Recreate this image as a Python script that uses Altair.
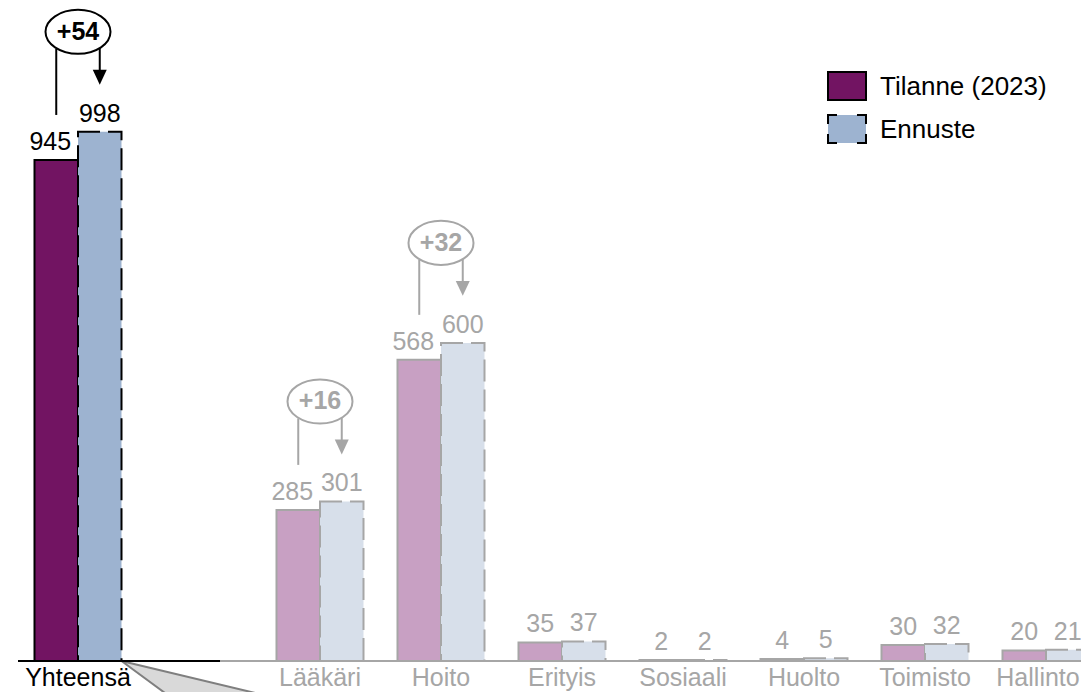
import altair as alt
import pandas as pd

# ---- data ----
categories = ["Yhteensä", "Lääkäri", "Hoito", "Erityis", "Sosiaali", "Huolto", "Toimisto", "Hallinto"]
current = [945, 285, 568, 35, 2, 4, 30, 20]          # Tilanne (2023)
forecast = [998, 301, 600, 37, 2, 5, 32, 21]         # Ennuste
series = ["Tilanne (2023)", "Ennuste"]
highlighted = ["Yhteensä"]
annot_categories = ["Yhteensä", "Lääkäri", "Hoito"]
annot_labels = ["+54", "+16", "+32"]
x_slots = ["Yhteensä", " ", "Lääkäri", "Hoito", "Erityis", "Sosiaali", "Huolto", "Toimisto", "Hallinto"]

# ---- tables ----
rows = []
for c, a, b in zip(categories, current, forecast):
    hl = "on" if c in highlighted else "off"
    rows.append({"category": c, "series": series[0], "value": a, "hl": hl})
    rows.append({"category": c, "series": series[1], "value": b, "hl": hl})
long_df = pd.DataFrame(rows)

cat_df = pd.DataFrame({"category": categories,
                       "hl": ["on" if c in highlighted else "off" for c in categories]})

ann_rows = []
for c, lab in zip(annot_categories, annot_labels):
    i = categories.index(c)
    ann_rows.append({"category": c, "cur": current[i], "fc": forecast[i], "label": lab,
                     "hl": "on" if c in highlighted else "off"})
ann_df = pd.DataFrame(ann_rows)

leg_df = pd.DataFrame({"series": series})

FONT = "Liberation Sans"
PURPLE = "#721462"
BLUE = "#9db3d0"
PURPLE_F = "#c8a0c3"
BLUE_F = "#d7dfea"
GRAY = "#a6a6a6"
DASH = [22, 8]
LEG_DASH = [9, 20, 18, 10, 18, 20, 18, 10, 9]
BW = 43.5          # bar width (px)
HALF = BW / 2      # offset of each bar centre from category centre

xscale = alt.Scale(domain=x_slots, range=[9.5, 1098.5], paddingInner=0, paddingOuter=0)
yscale = alt.Scale(domain=[-58.47, 1231.6], nice=False, zero=False)

X = alt.X("category:N", scale=xscale, axis=None)
YZERO = alt.Y("zero:Q", scale=yscale, axis=None)

is_on = "datum.hl == 'on'"
is_cur = f"datum.series == '{series[0]}'"
is_last = f"datum.category == '{categories[-1]}'"
col = alt.condition(is_on, alt.value("black"), alt.value(GRAY))

k = 0.677
c = 0.5523
ELLIPSE_PATH = (f"M 1 0 C 1 {c*k:.4f} {c:.4f} {k} 0 {k} "
                f"C {-c:.4f} {k} -1 {c*k:.4f} -1 0 "
                f"C -1 {-c*k:.4f} {-c:.4f} {-k} 0 {-k} "
                f"C {c:.4f} {-k} 1 {-c*k:.4f} 1 0 Z")
TRI_PATH = "M -1 -1.07 L 1 -1.07 L 0 1.07 Z"
CALLOUT_PATH = "M 0 0 L 0.815 0.6 L 2.508 0.6 Z"

# callout wedge below the total bar
callout = alt.Chart(cat_df).transform_filter(is_on).transform_calculate(zero="0").mark_point(
    shape=CALLOUT_PATH, size=40000, filled=True, fill="#d9d9d9", stroke="#7f7f7f",
    strokeWidth=2, opacity=1, xOffset=BW
).encode(x=X, y=YZERO)


def bar_layer(s, off, on_fill, off_fill, dash):
    return alt.Chart(long_df).transform_filter(f"datum.series == '{s}'").mark_bar(
        strokeWidth=2, width=BW, xOffset=off, strokeDash=dash
    ).encode(
        x=X, y=alt.Y("value:Q", scale=yscale, axis=None), y2=alt.datum(0),
        fill=alt.condition(is_on, alt.value(on_fill), alt.value(off_fill)),
        stroke=col,
    )


bars_cur = bar_layer(series[0], -HALF, PURPLE, PURPLE_F, [1, 0])
bars_fc = bar_layer(series[1], HALF, BLUE, BLUE_F, DASH)

base_black = alt.Chart(cat_df).transform_filter(is_on).transform_calculate(zero="0").mark_rule(
    color="black", strokeWidth=2).encode(x=alt.value(10), x2=alt.value(212), y=YZERO)
base_gray = alt.Chart(cat_df).transform_filter(is_on).transform_calculate(zero="0").mark_rule(
    color=GRAY, strokeWidth=2).encode(x=alt.value(212), x2=alt.value(1073), y=YZERO)


def value_labels(flt, off):
    return alt.Chart(long_df).transform_filter(flt).mark_text(
        font=FONT, fontSize=25, baseline="alphabetic", align="center", yOffset=-10, xOffset=off
    ).encode(x=X, y=alt.Y("value:Q", scale=yscale, axis=None), text="value:Q", color=col)


val_cur_big = value_labels(f"{is_cur} && datum.value >= 100", -HALF - 6)
val_cur_small = value_labels(f"{is_cur} && datum.value < 100", -HALF)
val_fc = value_labels(f"!({is_cur})", HALF)


def category_labels(flt, dx):
    return alt.Chart(cat_df).transform_filter(flt).transform_calculate(zero="0").mark_text(
        font=FONT, fontSize=25, baseline="alphabetic", align="center", yOffset=25, dx=dx
    ).encode(x=X, y=YZERO, text="category:N", color=col)


cat_labels = category_labels(f"!({is_last})", 0)
cat_label_last = category_labels(is_last, -8)

ann = alt.Chart(ann_df)
left_line = ann.mark_rule(strokeWidth=2, xOffset=-HALF, yOffset=-45, y2Offset=-83).encode(
    x=X, y=alt.Y("cur:Q", scale=yscale, axis=None), y2="fc:Q", color=col)
arrow_shaft = ann.mark_rule(strokeWidth=2, xOffset=HALF, yOffset=-84, y2Offset=-60).encode(
    x=X, y=alt.Y("fc:Q", scale=yscale, axis=None), y2="fc:Q", color=col)
arrow_head = ann.mark_point(
    shape=TRI_PATH, size=196, filled=True, opacity=1, strokeWidth=0, xOffset=HALF, yOffset=-54.5
).encode(x=X, y=alt.Y("fc:Q", scale=yscale, axis=None), fill=col)
ellipse = ann.mark_point(
    shape=ELLIPSE_PATH, size=4225, filled=True, fill="white", opacity=1, strokeWidth=2, yOffset=-100
).encode(x=X, y=alt.Y("fc:Q", scale=yscale, axis=None), stroke=col)
ell_text = ann.mark_text(
    font=FONT, fontSize=25, fontWeight="bold", baseline="middle", align="center", yOffset=-100
).encode(x=X, y=alt.Y("fc:Q", scale=yscale, axis=None), text="label:N", color=col)

# legend (drawn as marks, placed in the upper right corner)
leg_cur_box = alt.Chart(leg_df).transform_filter(is_cur).mark_rect(
    fill=PURPLE, stroke="black", strokeWidth=2
).encode(x=alt.value(820), x2=alt.value(858), y=alt.value(64), y2=alt.value(92))
leg_fc_box = alt.Chart(leg_df).transform_filter(f"!({is_cur})").mark_rect(
    fill=BLUE, stroke="black", strokeWidth=2, strokeDash=LEG_DASH
).encode(x=alt.value(820), x2=alt.value(858), y=alt.value(107), y2=alt.value(135))
leg_cur_txt = alt.Chart(leg_df).transform_filter(is_cur).mark_text(
    font=FONT, fontSize=26, baseline="middle", align="left", color="black"
).encode(x=alt.value(872), y=alt.value(79), text="series:N")
leg_fc_txt = alt.Chart(leg_df).transform_filter(f"!({is_cur})").mark_text(
    font=FONT, fontSize=26, baseline="middle", align="left", color="black"
).encode(x=alt.value(872), y=alt.value(122), text="series:N")

chart = alt.layer(
    callout, bars_cur, bars_fc, base_black, base_gray, val_cur_big, val_cur_small, val_fc,
    cat_labels, cat_label_last, left_line, arrow_shaft, arrow_head, ellipse, ell_text,
    leg_cur_box, leg_fc_box, leg_cur_txt, leg_fc_txt
).properties(
    width=1073, height=684, padding=0,
    autosize=alt.AutoSizeParams(type="none"),
    background="white",
).configure_view(stroke=None)

chart.save("out.html", embed_options={"renderer": "svg", "actions": False})
